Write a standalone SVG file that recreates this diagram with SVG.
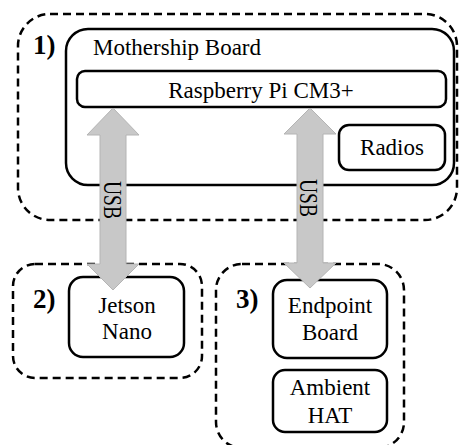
<svg xmlns="http://www.w3.org/2000/svg" width="460" height="445" viewBox="0 0 460 445">
<style>
.dash{fill:none;stroke:#000;stroke-width:2.5;stroke-dasharray:8 5}
.box{fill:#fff;stroke:#000;stroke-width:2.5}
.t{font-family:"Liberation Serif","Times New Roman",serif;font-size:23px;fill:#000}
.c{text-anchor:middle}
.n{font-family:"Liberation Serif","Times New Roman",serif;font-size:27px;font-weight:bold;fill:#000}
.arr{fill:#c8c8c8;stroke:#b4b4b4;stroke-width:1}
.usb{font-family:"Liberation Serif","Times New Roman",serif;font-size:25px;fill:#000}
</style>
<rect x="0" y="0" width="460" height="445" fill="#fff"/>
<g id="group1">
<rect class="dash" x="18" y="14" width="439" height="206" rx="32"/>
<text class="n" x="33" y="54">1)</text>
</g>
<g id="mothership">
<rect class="box" x="66" y="29" width="388" height="156" rx="22"/>
<text class="t" x="93" y="55">Mothership Board</text>
</g>
<g id="rpi">
<rect class="box" x="77" y="71" width="369" height="36" rx="8"/>
<text class="t c" x="261" y="98">Raspberry Pi CM3+</text>
</g>
<g id="radios">
<rect class="box" x="339" y="125" width="106" height="45" rx="10"/>
<text class="t c" x="392" y="155">Radios</text>
</g>
<g id="group2">
<rect class="dash" x="13" y="264" width="189" height="114" rx="22"/>
<text class="n" x="33" y="308">2)</text>
</g>
<g id="jetson">
<rect class="box" x="69" y="277" width="115" height="80" rx="14"/>
<text class="t c" x="127" y="313">Jetson</text>
<text class="t c" x="127" y="339">Nano</text>
</g>
<g id="group3">
<rect class="dash" x="216" y="264" width="188" height="184" rx="26"/>
<text class="n" x="236" y="308">3)</text>
</g>
<g id="endpoint">
<rect class="box" x="273" y="280" width="114" height="78" rx="14"/>
<text class="t c" x="330" y="313">Endpoint</text>
<text class="t c" x="330" y="340">Board</text>
</g>
<g id="ambient">
<rect class="box" x="273" y="370" width="114" height="62" rx="12"/>
<text class="t c" x="330" y="395">Ambient</text>
<text class="t c" x="330" y="423">HAT</text>
</g>
<g id="connectors">
<polygon class="arr" points="113,108 139,135 126,135 126,264 139,264 113,290 87,264 100,264 100,135 87,135"/>
<text class="usb" transform="translate(104,181) rotate(90)" textLength="38" lengthAdjust="spacingAndGlyphs">USB</text>
<polygon class="arr" points="310,108 336,134 323,134 323,263 336,263 310,288 284,263 297,263 297,134 284,134"/>
<text class="usb" transform="translate(300,179) rotate(90)" textLength="38" lengthAdjust="spacingAndGlyphs">USB</text>
</g>
</svg>
